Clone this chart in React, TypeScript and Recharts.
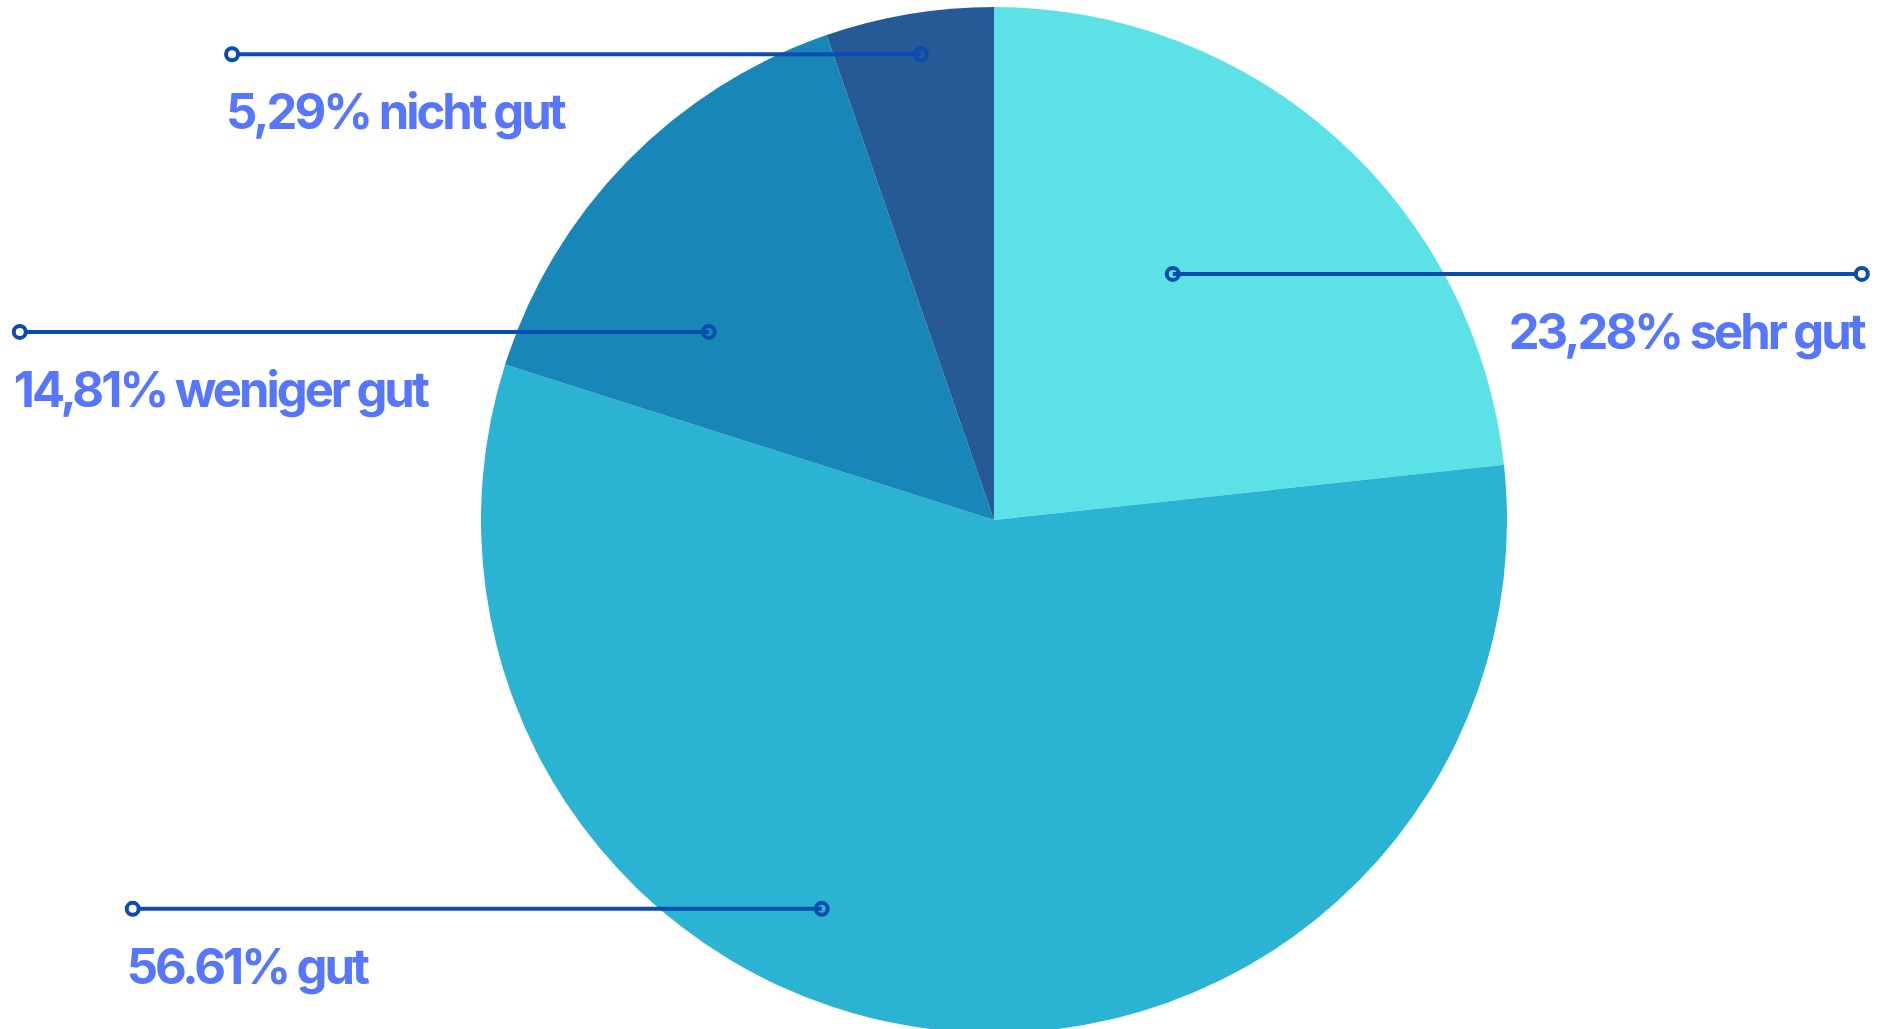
import { PieChart, Pie, Cell } from 'recharts';

const categories = ['sehr gut', 'gut', 'weniger gut', 'nicht gut'];
const shares = [23.28, 56.61, 14.81, 5.29];
const shareLabels = ['23,28%', '56.61%', '14,81%', '5,29%'];
const colors = ['#5CE1E6', '#2BB3D4', '#1887B8', '#265A96'];

// where each callout starts inside its slice (angle in degrees, fraction of radius) and which way it runs
const callouts = [
  { angle: 54, dist: 0.593, side: 1 },
  { angle: -113.9, dist: 0.829, side: -1 },
  { angle: 146.6, dist: 0.666, side: -1 },
  { angle: 98.9, dist: 0.919, side: -1 },
];

const data = categories.map((name, i) => ({ name, value: shares[i] }));

const LINE = '#0B4DAE';
const TEXT = '#5676FF';
const RAD = Math.PI / 180;

function renderLabel(props: any) {
  const { cx, cy, outerRadius, index } = props;
  const c = callouts[index];
  const x1 = cx + Math.cos(c.angle * RAD) * outerRadius * c.dist;
  const y = cy - Math.sin(c.angle * RAD) * outerRadius * c.dist;
  const x2 = x1 + c.side * 689;
  const textX = c.side > 0 ? x2 + 2 : x2 - 6;
  return (
    <g key={`lbl-${index}`}>
      <line x1={x1} y1={y} x2={x2} y2={y} stroke={LINE} strokeWidth={4} />
      <circle cx={x1} cy={y} r={6} fill="none" stroke={LINE} strokeWidth={4} />
      <circle cx={x2} cy={y} r={6} fill="#fff" stroke={LINE} strokeWidth={4} />
      <text
        x={textX}
        y={y + 75}
        textAnchor={c.side > 0 ? 'end' : 'start'}
        fill={TEXT}
        fontSize={49}
        fontWeight={700}
        fontFamily="Inter, 'Open Sans', sans-serif"
        letterSpacing={-3}
      >
        {`${shareLabels[index]} ${categories[index]}`}
      </text>
    </g>
  );
}

export default function App() {
  return (
    <div style={{ position: 'absolute', left: 0, top: 0, width: 1889, height: 1029, background: '#fff', overflow: 'hidden' }}>
      <PieChart width={1889} height={1029} margin={{ top: 0, right: 0, bottom: 0, left: 0 }}>
        <Pie
          data={data}
          dataKey="value"
          nameKey="name"
          cx={994}
          cy={520}
          outerRadius={513}
          startAngle={90}
          endAngle={-270}
          stroke="none"
          label={renderLabel}
          labelLine={false}
          isAnimationActive={false}
        >
          {data.map((entry, index) => (
            <Cell key={`cell-${index}`} fill={colors[index]} />
          ))}
        </Pie>
      </PieChart>
    </div>
  );
}
